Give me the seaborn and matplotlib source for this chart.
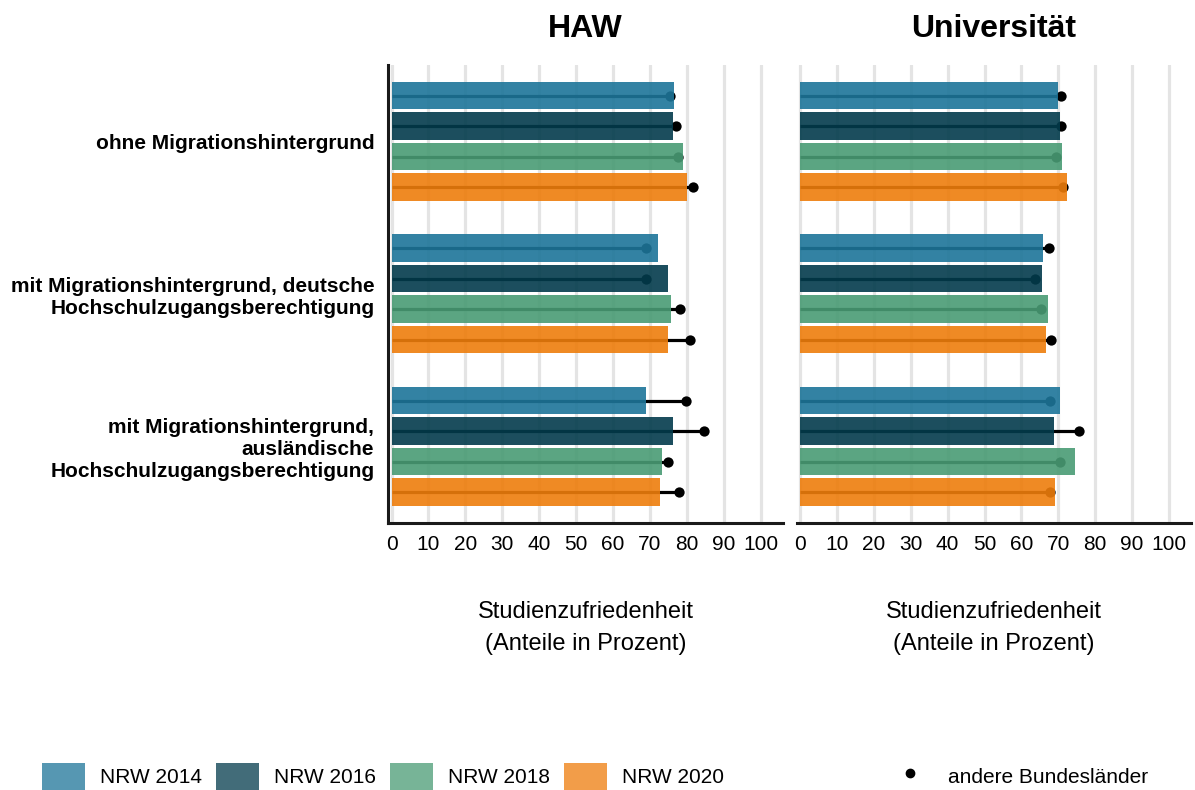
import matplotlib
matplotlib.use('Agg')
import matplotlib.pyplot as plt
import pandas as pd
import seaborn as sns
from matplotlib.patches import Patch
from matplotlib.lines import Line2D

GROUPS = ['ohne Migrationshintergrund',
          'mit Migrationshintergrund, deutsche\nHochschulzugangsberechtigung',
          'mit Migrationshintergrund,\nausländische\nHochschulzugangsberechtigung']
YEARS = ['NRW 2014', 'NRW 2016', 'NRW 2018', 'NRW 2020']
COLORS = ['#1d7599', '#033b4c', '#499b74', '#ee7d0c']

# NRW values (bars), ordered like GROUPS
HAW_2014 = [76.5, 72.2, 69.0]
HAW_2016 = [76.3, 74.9, 76.3]
HAW_2018 = [79.0, 75.7, 73.3]
HAW_2020 = [80.1, 74.9, 72.8]
UNI_2014 = [69.9, 65.9, 70.5]
UNI_2016 = [70.5, 65.6, 68.8]
UNI_2018 = [71.0, 67.2, 74.5]
UNI_2020 = [72.4, 66.7, 69.1]

# andere Bundeslaender (dots)
HAW_OTHER_2014 = [75.4, 68.9, 79.7]
HAW_OTHER_2016 = [77.1, 69.0, 84.7]
HAW_OTHER_2018 = [77.7, 78.2, 75.0]
HAW_OTHER_2020 = [81.6, 81.0, 77.9]
UNI_OTHER_2014 = [70.7, 67.6, 67.8]
UNI_OTHER_2016 = [70.6, 63.8, 75.7]
UNI_OTHER_2018 = [69.5, 65.3, 70.5]
UNI_OTHER_2020 = [71.4, 68.0, 67.8]

XLABEL = 'Studienzufriedenheit\n(Anteile in Prozent)'


def long_frame(bars):
    rows = []
    for year, vals in zip(YEARS, bars):
        for group, v in zip(GROUPS, vals):
            rows.append({'Gruppe': group, 'Jahr': year, 'Wert': v})
    return pd.DataFrame(rows)


def draw_panel(ax, bars, dots, title, show_y):
    df = long_frame(bars)
    sns.barplot(data=df, x='Wert', y='Gruppe', hue='Jahr', order=GROUPS, hue_order=YEARS,
                palette=COLORS, saturation=1, alpha=0.9, width=0.8, gap=0.1,
                errorbar=None, linewidth=0, orient='h', legend=False, ax=ax)

    # segments + dots for the other federal states, behind the bars
    for container, vals in zip(ax.containers, dots):
        ys = [b.get_y() + b.get_height() / 2 for b in container]
        ax.hlines(ys, 0, vals, color='black', lw=2.3, zorder=0.8)
        ax.scatter(vals, ys, s=55, color='black', linewidths=0, zorder=0.8)

    ax.set_xlim(-0.9, 106)
    ax.set_ylim(2.5, -0.5)
    ax.set_xticks(range(0, 101, 10))
    ax.set_axisbelow(True)
    ax.xaxis.grid(True, color='#e4e4e4', lw=2.3)
    ax.yaxis.grid(False)

    ax.set_title(title, fontsize=23, fontweight='bold', pad=20)
    ax.set_xlabel(XLABEL, fontsize=17, labelpad=34, linespacing=1.55)
    ax.set_ylabel('')

    for side in ['top', 'right']:
        ax.spines[side].set_visible(False)
    ax.spines['bottom'].set_linewidth(2.2)
    ax.spines['bottom'].set_color('#1a1a1a')
    ax.tick_params(axis='x', length=4, width=2, color='#1a1a1a', labelcolor='black',
                   labelsize=15, pad=5)

    if show_y:
        ax.spines['left'].set_linewidth(2.2)
        ax.spines['left'].set_color('#1a1a1a')
        ax.tick_params(axis='y', length=4, width=2, color='#1a1a1a', labelcolor='black',
                       labelsize=15, pad=6)
        for lbl in ax.get_yticklabels():
            lbl.set_fontweight('bold')
            lbl.set_linespacing(1.2)
    else:
        ax.spines['left'].set_visible(False)
        ax.tick_params(axis='y', left=False, labelleft=False)


def main():
    sns.set_theme(style='white')
    plt.rcParams['font.family'] = ['Liberation Sans', 'DejaVu Sans']
    plt.rcParams['text.color'] = 'black'
    plt.rcParams['axes.labelcolor'] = 'black'

    fig = plt.figure(figsize=(11.95, 7.9), dpi=100)
    ax_haw = fig.add_axes([0.3249, 0.3384, 0.3301, 0.5793])
    ax_uni = fig.add_axes([0.6667, 0.3384, 0.3301, 0.5793])

    draw_panel(ax_haw, [HAW_2014, HAW_2016, HAW_2018, HAW_2020],
               [HAW_OTHER_2014, HAW_OTHER_2016, HAW_OTHER_2018, HAW_OTHER_2020], 'HAW', True)
    draw_panel(ax_uni, [UNI_2014, UNI_2016, UNI_2018, UNI_2020],
               [UNI_OTHER_2014, UNI_OTHER_2016, UNI_OTHER_2018, UNI_OTHER_2020], 'Universität', False)

    year_handles = [Patch(facecolor=c, alpha=0.75, edgecolor='none') for c in COLORS]
    fig.legend(year_handles, YEARS, loc='lower left', bbox_to_anchor=(42 / 1195, 0),
               ncol=4, frameon=False, fontsize=15, handlelength=2.07, handleheight=1.63,
               handletextpad=0.72, columnspacing=0.67, borderpad=0, borderaxespad=0)

    dot_handle = Line2D([], [], marker='o', color='black', ls='', markersize=6)
    fig.legend([dot_handle], ['andere Bundesländer'], loc='lower left',
               bbox_to_anchor=(900 / 1195, 0), frameon=False, fontsize=15,
               handlelength=1.0, handleheight=1.63, handletextpad=1.3,
               borderpad=0, borderaxespad=0)

    fig.savefig('out.png', dpi=100)


if __name__ == "__main__":
    main()
